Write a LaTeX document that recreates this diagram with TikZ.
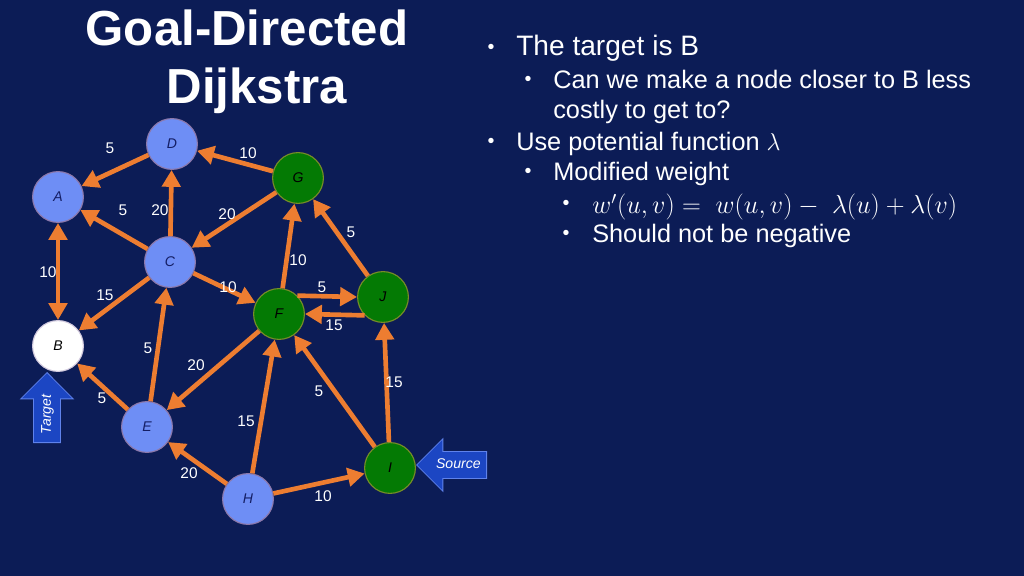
\documentclass[tikz,border=0pt]{standalone}
\usepackage{fontspec}
\setmainfont{Liberation Sans}
\usepackage{tikz}
\usetikzlibrary{arrows.meta,shapes.arrows}

\definecolor{bgnavy}{RGB}{12,28,86}
\definecolor{edgeorange}{RGB}{237,125,49}
\definecolor{nodeblue}{RGB}{110,142,245}
\definecolor{nodeblueline}{RGB}{140,120,170}
\definecolor{nodegreen}{RGB}{4,122,4}
\definecolor{nodegreenline}{RGB}{120,140,40}
\definecolor{arrowblue}{RGB}{28,70,195}
\definecolor{arrowblueline}{RGB}{95,130,235}
\definecolor{labelnavy}{RGB}{20,30,100}

\begin{document}
\begin{tikzpicture}[x=0.025cm, y=-0.025cm,
        vertex/.style={circle, draw, line width=0.8pt, minimum size=1.27cm, inner sep=0pt,
            font=\fontsize{10}{12}\selectfont\itshape}]
            \tikzset{bluev/.style = {vertex, fill=nodeblue, draw=nodeblueline, text=labelnavy}}
            \tikzset{greenv/.style = {vertex, fill=nodegreen, draw=nodegreenline, text=black}}
            \tikzset{whitev/.style = {vertex, fill=white, draw=nodeblueline!40, text=black}}
            \tikzset{edge/.style = {-{Triangle[length=12pt,width=13pt]}, line width=3.3pt, draw=edgeorange}}
            \tikzset{weight/.style = {text=white, inner sep=0pt, font=\fontsize{11}{13}\selectfont}}
            \tikzset{pointer/.style = {single arrow, draw=arrowblueline, fill=arrowblue, line width=0.6pt,
                text=white, inner xsep=1pt, inner ysep=4.6pt, text height=7.4pt, text depth=2pt,
                font=\fontsize{10}{12}\selectfont\itshape, minimum height=1.75cm,
                single arrow head extend=0.32cm, single arrow head indent=0pt}}
            \tikzset{heading/.style = {text=white, anchor=base, font=\fontsize{35}{42}\selectfont\bfseries}}
            \tikzset{dot/.style = {text=white, inner sep=0pt, font=\fontsize{14}{16}\selectfont}}
            \tikzset{itemA/.style = {text=white, anchor=base west, inner sep=0pt, font=\fontsize{20}{24}\selectfont}}
            \tikzset{itemB/.style = {text=white, anchor=base west, inner sep=0pt, font=\fontsize{18}{22}\selectfont}}

            \useasboundingbox (0,0) rectangle (1024,576);
            \fill[bgnavy] (0,0) rectangle (1024,576);

            % title
            \node[heading] (title1) at (247,46) {Goal-Directed};
            \node[heading] (title2) at (257,104) {Dijkstra};

            % bullets
            \node[dot] (d1) at (491,49) {\textbullet};
            \node[itemA] (t1) at (516,56) {The target is B};
            \node[dot] (d2) at (528,81) {\textbullet};
            \node[itemB] (t2) at (553,89) {Can we make a node closer to B less};
            \node[itemB] (t2b) at (553,119) {costly to get to?};
            \node[dot] (d3) at (491,143) {\textbullet};
            \node[itemB] (t3) at (516,151) {Use potential function $\lambda$};
            \node[dot] (d4) at (528,173) {\textbullet};
            \node[itemB] (t4) at (553,181) {Modified weight};
            \node[dot] (d5) at (566,205) {\textbullet};
            \node[itemB] (t5) at (592,214)
                {\scalebox{1.075}{$w'(u,v) =\ w(u,v) -\ \lambda(u) + \lambda(v)$}};
            \node[dot] (d6) at (566,235) {\textbullet};
            \node[itemB] (t6) at (592,243) {Should not be negative};

            % graph
            \node[bluev] (D) at (172,144) {D};
            \node[bluev] (A) at (58,197) {A};
            \node[bluev] (C) at (170,262) {C};
            \node[greenv] (G) at (298,178) {G};
            \node[greenv] (F) at (279,314) {F};
            \node[greenv] (J) at (383,297) {J};
            \node[whitev] (B) at (58,346) {B};
            \node[bluev] (E) at (147,427) {E};
            \node[bluev] (H) at (248,499) {H};
            \node[greenv] (I) at (390,468) {I};

            \draw [edge] (D) to (A);
            \draw [edge] (G) to (D);
            \draw [edge] (C) to (A);
            \draw [edge] (C) to (D);
            \draw [edge] (G) to (C);
            \draw [edge, {Triangle[length=12pt,width=13pt]}-{Triangle[length=12pt,width=13pt]}] (A) to (B);
            \draw [edge] (C) to (B);
            \draw [edge] (C) to (F);
            \draw [edge] (F) to (G);
            \draw [edge] (J) to (G);
            \draw [edge] (F.45) to (J.west);
            \draw [edge] (J.225) to (F.east);
            \draw [edge] (E) to (C);
            \draw [edge] (F) to (E);
            \draw [edge] (E) to (B);
            \draw [edge] (H) to (E);
            \draw [edge] (H) to (F);
            \draw [edge] (I) to (F);
            \draw [edge] (I) to (J);
            \draw [edge] (H) to (I);

            % weights
            \node[weight] (wDA) at (110,148) {5};
            \node[weight] (wGD) at (248,153) {10};
            \node[weight] (wCA) at (123,210) {5};
            \node[weight] (wCD) at (160,210) {20};
            \node[weight] (wGC) at (227,214) {20};
            \node[weight] (wAB) at (48,272) {10};
            \node[weight] (wCB) at (105,295) {15};
            \node[weight] (wCF) at (228,287) {10};
            \node[weight] (wFG) at (298,260) {10};
            \node[weight] (wJG) at (351,232) {5};
            \node[weight] (wFJ) at (322,287) {5};
            \node[weight] (wJF) at (334,325) {15};
            \node[weight] (wEC) at (148,348) {5};
            \node[weight] (wFE) at (196,365) {20};
            \node[weight] (wEB) at (102,398) {5};
            \node[weight] (wHE) at (189,473) {20};
            \node[weight] (wHF) at (246,421) {15};
            \node[weight] (wIF) at (319,391) {5};
            \node[weight] (wIJ) at (394,382) {15};
            \node[weight] (wHI) at (323,496) {10};

            % target and source
            \node[pointer, rotate=90, anchor=tip] (target) at (47,372) {Target};
            \node[pointer, shape border rotate=180, anchor=tip] (source) at (416,465) {Source};
\end{tikzpicture}
\end{document}
